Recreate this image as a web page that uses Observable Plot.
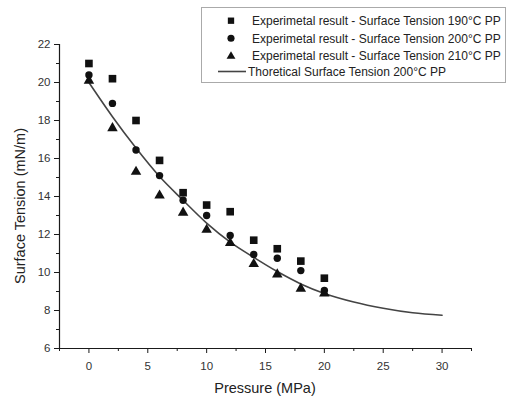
<!DOCTYPE html>
<html>
<head>
<meta charset="utf-8">
<script src="https://cdn.jsdelivr.net/npm/d3@7"></script>
<script src="https://cdn.jsdelivr.net/npm/@observablehq/plot@0.6"></script>
<style>
  html, body { margin: 0; padding: 0; background: #fff; }
  #chart { position: relative; width: 511px; height: 398px; }
</style>
</head>
<body>
<div id="chart"></div>
<script>
// ---- data ----
const pressures = [0, 2, 4, 6, 8, 10, 12, 14, 16, 18, 20];
const st190 = [21.0, 20.2, 18.0, 15.9, 14.2, 13.55, 13.2, 11.7, 11.25, 10.6, 9.7];
const st200 = [20.4, 18.9, 16.45, 15.1, 13.8, 13.0, 11.95, 10.95, 10.75, 10.1, 9.05];
const st210 = [20.1, 17.6, 15.3, 14.05, 13.15, 12.25, 11.55, 10.45, 9.9, 9.15, 8.9];

const curveP = [0, 2, 4, 6, 8, 10, 12, 14, 16, 18, 20, 22.5, 25, 27.5, 30];
const curveST = [20.0, 18.2, 16.55, 15.05, 13.8, 12.6, 11.6, 10.8, 10.05, 9.4, 8.9, 8.45, 8.12, 7.88, 7.75];

const xMajor = [0, 5, 10, 15, 20, 25, 30];
const xMinor = [-2.5, 2.5, 7.5, 12.5, 17.5, 22.5, 27.5, 32.5];
const yMajor = [6, 8, 10, 12, 14, 16, 18, 20, 22];
const yMinor = [7, 9, 11, 13, 15, 17, 19, 21];

const seriesNames = [
  "Experimetal result - Surface Tension 190°C PP",
  "Experimetal result - Surface Tension 200°C PP",
  "Experimetal result - Surface Tension 210°C PP",
  "Thoretical Surface Tension 200°C PP"
];
const xLabel = "Pressure (MPa)";
const yLabel = "Surface Tension (mN/m)";

// ---- build tables ----
const d190 = pressures.map((p, i) => ({p, v: st190[i]}));
const d200 = pressures.map((p, i) => ({p, v: st200[i]}));
const d210 = pressures.map((p, i) => ({p, v: st210[i]}));
const curve = curveP.map((p, i) => ({p, v: curveST[i]}));

const font = "'Liberation Sans', Arial, sans-serif";
const ink = "#1a1a1a";

const plot = Plot.plot({
  width: 511,
  height: 398,
  marginLeft: 59,
  marginRight: 40,
  marginTop: 44,
  marginBottom: 50,
  style: {fontFamily: font, background: "#fff", color: ink, overflow: "visible"},
  x: {domain: [-2.5, 32.5], axis: null},
  y: {domain: [6, 22], axis: null},
  marks: [
    Plot.axisX({ticks: xMajor, tickSize: 5, tickPadding: 8, fontSize: 11.5, label: null, stroke: ink, fill: "#333"}),
    Plot.axisX({ticks: xMinor, tickSize: 3, tickFormat: () => "", label: null, stroke: ink}),
    Plot.axisY({ticks: yMajor, tickSize: 5, tickPadding: 4, fontSize: 11.5, label: null, stroke: ink, fill: "#333"}),
    Plot.axisY({ticks: yMinor, tickSize: 3, tickFormat: () => "", label: null, stroke: ink}),
    Plot.ruleY([6], {stroke: ink, strokeWidth: 1.2}),
    Plot.ruleX([-2.5], {stroke: ink, strokeWidth: 1.2}),
    Plot.line(curve, {x: "p", y: "v", curve: "monotone-x", stroke: "#444", strokeWidth: 1.6}),
    Plot.dot(d190, {x: "p", y: "v", symbol: "square", r: 4.3, fill: "#111", stroke: "none"}),
    Plot.dot(d200, {x: "p", y: "v", symbol: "circle", r: 3.7, fill: "#111", stroke: "none"}),
    Plot.dot(d210, {x: "p", y: "v", symbol: "triangle", r: 3.9, fill: "#111", stroke: "none"})
  ]
});

document.getElementById("chart").appendChild(plot);

// ---- axis titles and legend ----
const svg = d3.select(plot);

svg.append("text")
  .attr("x", 265).attr("y", 393)
  .attr("text-anchor", "middle")
  .style("font-family", font).style("font-size", "14.5px").attr("fill", "#222")
  .text(xLabel);

svg.append("text")
  .attr("transform", "translate(25,206) rotate(-90)")
  .attr("text-anchor", "middle")
  .style("font-family", font).style("font-size", "14.5px").attr("fill", "#222")
  .text(yLabel);

const lg = svg.append("g").attr("text-anchor", "start");
lg.append("rect")
  .attr("x", 201.5).attr("y", 7.5).attr("width", 304).attr("height", 75)
  .attr("fill", "#fff").attr("stroke", "#aaa").attr("stroke-width", 1);

const symbols = [d3.symbolSquare, d3.symbolCircle, d3.symbolTriangle];
const sizes = [40, 40, 34];
const rowY = [20.7, 38.3, 55.5, 71.5];
for (let i = 0; i < 3; i++) {
  lg.append("path")
    .attr("d", d3.symbol(symbols[i], sizes[i])())
    .attr("transform", `translate(231,${rowY[i] + (i === 2 ? 0.8 : 0)})`)
    .attr("fill", "#111");
  lg.append("text")
    .attr("x", 252).attr("y", rowY[i]).attr("dy", "0.35em")
    .attr("text-anchor", "start")
    .style("font-family", font).style("font-size", "12px").attr("fill", "#222")
    .text(seriesNames[i]);
}
lg.append("line")
  .attr("x1", 218).attr("x2", 246).attr("y1", rowY[3]).attr("y2", rowY[3])
  .attr("stroke", "#444").attr("stroke-width", 1.6);
lg.append("text")
  .attr("x", 248).attr("y", rowY[3]).attr("dy", "0.35em")
  .attr("text-anchor", "start")
  .style("font-family", font).style("font-size", "12px").attr("fill", "#222")
  .text(seriesNames[3]);
</script>
</body>
</html>
